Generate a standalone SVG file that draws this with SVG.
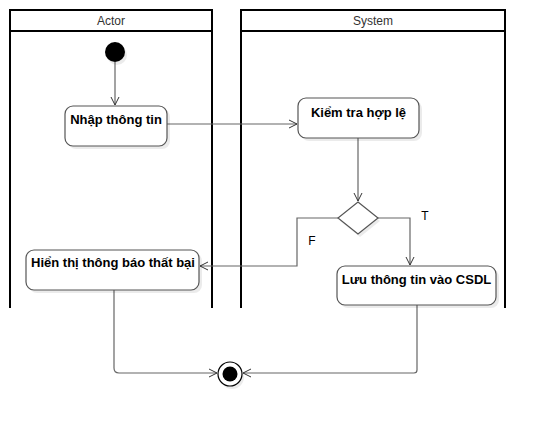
<svg xmlns="http://www.w3.org/2000/svg" width="546" height="427" viewBox="0 0 546 427">
<defs>
<marker id="open" markerWidth="10" markerHeight="10" refX="9" refY="5" orient="auto" markerUnits="userSpaceOnUse">
<path d="M1,1 L9,5 L1,9" fill="none" stroke="#333" stroke-width="1"/>
</marker>
</defs>
<style>
.lane{fill:none;stroke:#000;stroke-width:2}
.hdr{font-family:"Liberation Sans",Arial,sans-serif;font-size:12px;fill:#333;text-anchor:middle}
.node{fill:#fff;stroke:#555;stroke-width:1.2}
.shadow{fill:#000;opacity:0.08}
.lbl{font-family:"Liberation Sans",Arial,sans-serif;font-size:13px;font-weight:bold;fill:#000;text-anchor:middle}
.edge{fill:none;stroke:#666;stroke-width:1.2}
.elbl{font-family:"Liberation Sans",Arial,sans-serif;font-size:12px;fill:#000;text-anchor:middle}
</style>
<rect width="546" height="427" fill="#fff"/>
<g id="lane-actor">
<path class="lane" d="M10,308 V10 H212 V308 M10,31 H212"/>
<text class="hdr" x="111" y="24.5">Actor</text>
</g>
<g id="lane-system">
<path class="lane" d="M241,308 V10 H505 V308 M241,31 H505"/>
<text class="hdr" x="373" y="24.5">System</text>
</g>
<g id="connectors">
<path class="edge" d="M115,62 V105" marker-end="url(#open)"/>
<path class="edge" d="M167,124 H297" marker-end="url(#open)"/>
<path class="edge" d="M358,138 V201" marker-end="url(#open)"/>
<path class="edge" d="M378,218 H410 V265" marker-end="url(#open)"/>
<path class="edge" d="M338,218 H297 V266 H200" marker-end="url(#open)"/>
<path class="edge" d="M114,290 V368 Q114,373 119,373 H217" marker-end="url(#open)"/>
<path class="edge" d="M417,305 V370 Q417,373 414,373 H243" marker-end="url(#open)"/>
<text class="elbl" x="425" y="220">T</text>
<text class="elbl" x="312" y="245">F</text>
</g>
<g id="start">
<circle class="shadow" cx="117" cy="55" r="10"/>
<circle cx="115" cy="52" r="10" fill="#000"/>
</g>
<g id="nhap">
<rect class="shadow" x="68" y="109" width="102" height="40" rx="8"/>
<rect class="node" x="65" y="106" width="102" height="40" rx="8"/>
<text class="lbl" x="116" y="123.5">Nhập thông tin</text>
</g>
<g id="kiemtra">
<rect class="shadow" x="301" y="101" width="121" height="40" rx="8"/>
<rect class="node" x="298" y="98" width="121" height="40" rx="8"/>
<text class="lbl" x="358.5" y="116.5">Kiểm tra hợp lệ</text>
</g>
<g id="decision">
<path class="shadow" d="M360,205 L380,221 L360,237 L340,221 Z"/>
<path class="node" d="M358,202 L378,218 L358,234 L338,218 Z"/>
</g>
<g id="hienthi">
<rect class="shadow" x="29" y="253" width="173" height="40" rx="8"/>
<rect class="node" x="26" y="250" width="173" height="40" rx="8"/>
<text class="lbl" x="113" y="266.5">Hiển thị thông báo thất bại</text>
</g>
<g id="luu">
<rect class="shadow" x="340" y="269" width="159" height="39" rx="8"/>
<rect class="node" x="337" y="266" width="159" height="39" rx="8"/>
<text class="lbl" x="416.5" y="283.5">Lưu thông tin vào CSDL</text>
</g>
<g id="end">
<circle class="shadow" cx="232" cy="377" r="12"/>
<circle cx="230" cy="374" r="12" fill="#fff" stroke="#000" stroke-width="1.2"/>
<circle cx="230" cy="374" r="7.5" fill="#000"/>
</g>
</svg>
